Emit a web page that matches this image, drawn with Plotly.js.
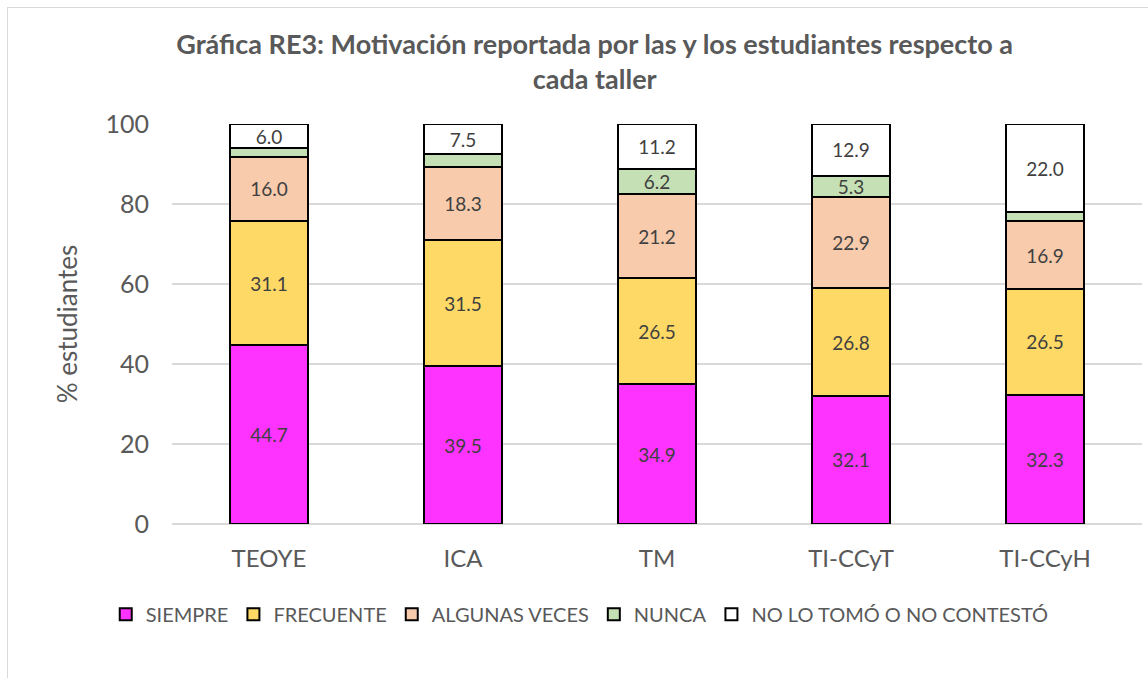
<!DOCTYPE html>
<html><head><meta charset="utf-8">
<script src="https://cdn.plot.ly/plotly-3.0.1.min.js"></script>
<style>
html,body{margin:0;padding:0;background:#fff;}
#frame{position:absolute;left:7px;top:7px;width:1160px;height:700px;border-top:1px solid #d9d9d9;border-left:1px solid #d9d9d9;}
#chart{position:absolute;left:0;top:0;width:1148px;height:678px;}
</style></head>
<body>
<div id="frame"></div>
<div id="chart"></div>
<script>
const categories = ['TEOYE','ICA','TM','TI-CCyT','TI-CCyH'];
const siempre = [44.7, 39.5, 34.9, 32.1, 32.3];
const frecuente = [31.1, 31.5, 26.5, 26.8, 26.5];
const algunas = [16.0, 18.3, 21.2, 22.9, 16.9];
const nunca = [2.2, 3.2, 6.2, 5.3, 2.3];
const noTomo = [6.0, 7.5, 11.2, 12.9, 22.0];

const seriesNames = ['SIEMPRE','FRECUENTE','ALGUNAS VECES','NUNCA','NO LO TOMÓ O NO CONTESTÓ'];
const seriesValues = [siempre, frecuente, algunas, nunca, noTomo];
const seriesColors = ['#FF33FF','#FFD966','#F8CBAD','#C5E0B4','#FFFFFF'];

const traces = seriesValues.map((vals, i) => ({
  type: 'bar',
  name: seriesNames[i],
  x: categories,
  y: vals,
  text: vals.map(v => v >= 5 ? v.toFixed(1) : ''),
  textposition: 'inside',
  insidetextanchor: 'middle',
  textangle: 0,
  constraintext: 'none',
  textfont: {family: 'Lato, Noto Sans, sans-serif', size: 19, color: '#404040'},
  hoverinfo: 'skip',
  marker: {color: seriesColors[i], line: {color: '#000000', width: 2}}
}));

const layout = {
  width: 1148, height: 678,
  barmode: 'stack',
  bargap: 0.6,
  paper_bgcolor: 'rgba(0,0,0,0)',
  plot_bgcolor: 'rgba(0,0,0,0)',
  margin: {l: 172, r: 6, t: 124, b: 154},
  font: {family: 'Lato, Noto Sans, sans-serif', color: '#595959'},
  title: {
    text: '<b>Gráfica RE3: Motivación reportada por las y los estudiantes respecto a<br>cada taller</b>',
    font: {family: 'Lato, Noto Sans, sans-serif', size: 27, color: '#595959'},
    x: 0.518, xanchor: 'center', xref: 'container',
    y: 0.92, yanchor: 'top'
  },
  xaxis: {
    tickfont: {size: 24, color: '#595959'},
    showgrid: false, showline: false, ticks: '', fixedrange: true,
    ticklabelstandoff: 18
  },
  yaxis: {
    range: [0, 100], dtick: 20,
    tickfont: {size: 25, color: '#595959'},
    gridcolor: '#d9d9d9', gridwidth: 2,
    zeroline: true, zerolinecolor: '#d9d9d9', zerolinewidth: 2,
    ticks: '', ticklen: 0,
    ticklabelstandoff: 22,
    title: {text: '% estudiantes', font: {size: 26, color: '#595959'}, standoff: 20},
    fixedrange: true
  },
  legend: {
    orientation: 'h', x: 0.505, xref: 'container', xanchor: 'center', y: 0.094, yref: 'container', yanchor: 'middle',
    font: {size: 20, color: '#595959'},
    traceorder: 'normal', itemwidth: 30
  },
  showlegend: true
};

Plotly.newPlot('chart', traces, layout, {displayModeBar: false, staticPlot: true});
</script>
</body></html>
